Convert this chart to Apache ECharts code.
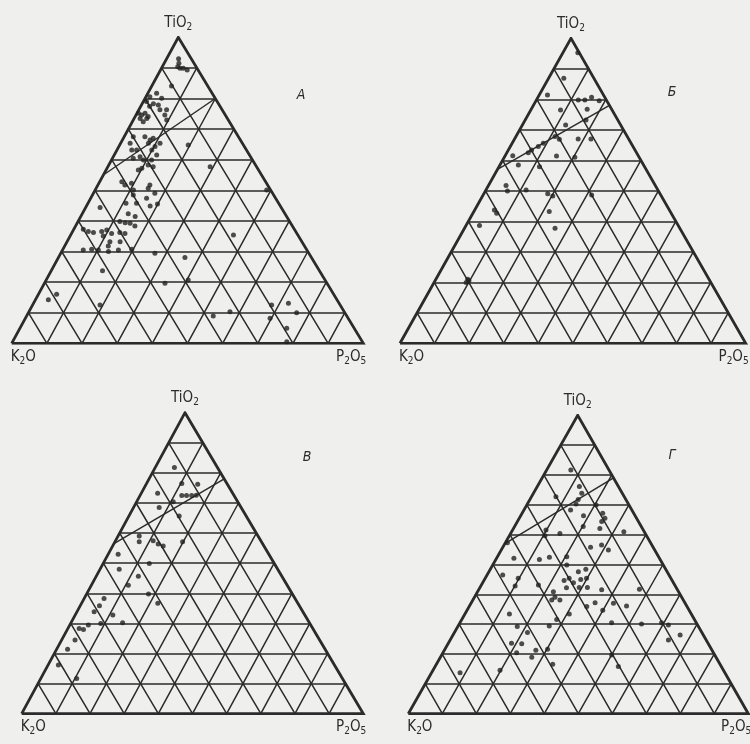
<!DOCTYPE html>
<html>
<head>
<meta charset="utf-8">
<script src="https://cdn.jsdelivr.net/npm/echarts@6/dist/echarts.min.js"></script>
<style>
  html, body { margin: 0; padding: 0; background: #efefed; }
  #chart { width: 750px; height: 744px; }
</style>
</head>
<body>
<div id="chart"></div>
<script>
// Ternary grid step values (percent)
const TICKS = [10, 20, 30, 40, 50, 60, 70, 80, 90];

// Panel letters
const PANEL_LETTERS = ['А', 'Б', 'В', 'Г'];

// Samples as [TiO2 %, P2O5 %]; K2O is the remainder to 100
const pointsA = [
  [93, 3.4], [91.5, 4.2], [90.4, 4.4], [89.9, 5.3], [89.9, 6.2], [89.3, 7.6], [84.1, 5.6],
  [81.7, 2.5], [80.1, 4.7], [80.6, 1.1], [79, 0.9], [77.9, 4.8], [76.3, 6], [76.3, 7.9],
  [74.6, 8.2], [73, 9.5], [75.2, 0.4], [74.6, 1.6], [75.2, 2.3], [73.5, 1.7], [73.5, 3.6],
  [72.4, 3.1], [74.1, 3.7], [77.5, 2.5], [78.3, 3.2],
  [67.5, 5.9], [66.4, 7.9], [67, 8.5], [65.4, 7.9], [64.3, 10.3], [63.2, 9.9], [61.5, 12.1],
  [65.4, 11.2], [67.5, 2.6], [65.4, 2.7], [63.2, 4.2], [63.2, 5.6], [61, 7.6], [59.9, 9.1],
  [60.5, 5.9], [58.3, 11.2], [57.7, 12.9], [59.9, 11.4], [57.2, 9.9], [56.6, 9.2],
  [64.8, 19.5], [57.7, 29.1], [50.1, 48.8],
  [52.8, 6.3], [51.7, 7.7], [52.3, 9.3], [51.7, 14.8], [50.7, 14.8], [50.1, 10.9], [47.4, 15.9],
  [49, 17.5], [48.5, 11.6], [45.8, 13.8], [45.8, 10.8], [44.4, 4.1], [44.9, 18.1], [45.5, 19.9],
  [42.3, 13.1], [41.4, 15.5],
  [39.8, 11.9], [39.4, 13.6], [39.2, 15.1], [38.3, 16.9], [37.3, 2.7], [36.5, 4.5], [36.2, 6.1],
  [36.5, 8.3], [37, 9.5], [35.1, 9.4], [35.9, 11.4], [36.2, 13.6], [35.9, 15.2], [33.2, 12.2],
  [33.2, 15.1], [30.5, 5.9], [30.7, 8.2], [30.5, 10.2], [31.8, 12.4], [30, 13.3], [30.5, 15.9],
  [30.7, 19.6], [29.4, 26.8], [28, 36], [35.4, 46.3],
  [23.7, 14.6], [19.6, 34.3], [20.7, 40.4], [16, 5.2], [14.2, 3.7], [12.5, 19.2], [10.3, 57.2],
  [8.9, 53.1], [12.5, 68], [8.2, 69.6], [13.1, 72.5], [10, 76.3], [4.9, 75.9], [0.5, 78]
];
const pointsB = [
  [95.3, 4.3], [86.9, 4.4], [81.4, 2.4], [79.8, 12.1], [79.8, 14], [80.7, 15.5], [79.5, 18.3],
  [76.5, 8.6], [76.7, 16.2], [71.6, 12.5], [73.2, 17.6], [67.8, 11.3], [66.9, 13], [67, 18.4],
  [67, 22.1], [65.6, 9], [64.5, 8.1], [63.4, 6.7], [62.5, 6.2], [61.5, 2.2], [58.5, 5.3],
  [61.4, 14.9], [61, 20.4], [57.9, 11.7], [51.7, 5.1], [49.9, 6.4], [50.3, 11.6], [49, 18.5],
  [48.3, 20.3], [48.6, 31.4], [43.7, 5.7], [42.6, 6.9], [43.2, 21.8], [38.6, 3.9], [37.7, 26.2],
  [21, 9.2], [19.9, 9.3], [20.5, 9.8]
];
const pointsV = [
  [81.8, 5.6], [76.5, 10.3], [76.2, 15.1], [73.2, 4.8], [72.5, 12.2], [72.5, 13.6], [72.5, 15.1],
  [72.6, 16.4], [70.4, 10.7], [68.5, 7.5], [65.7, 14.7], [59, 6.2], [57.1, 7.1], [57.5, 11],
  [56.4, 13], [55.7, 14.8], [57.1, 19.8], [53, 2.9], [49.9, 13.5], [48, 5.6], [45.7, 12.3],
  [42.7, 10.8], [39.8, 18.1], [36.7, 22.3], [38.3, 5.8], [35.9, 5.6], [33.9, 5], [32.8, 11],
  [30, 8.8], [30.2, 15.1], [28.3, 3.3], [28, 4.7], [29.5, 5.4], [24.5, 3.9], [21.4, 3.2],
  [16.2, 3], [11.7, 10.5]
];
const pointsG = [
  [81.7, 7.1], [72.7, 7.2], [76.1, 12.4], [73.9, 14.2], [71.8, 14.2], [70.3, 14.3], [68.3, 13.7],
  [69.9, 20.4], [66.3, 18.5], [67.2, 23.7], [65.5, 25.2], [64.4, 24.8], [61.6, 9.8], [59.6, 10.5],
  [60.4, 14.5], [62.7, 20.2], [62.1, 25.4], [61, 33], [57.3, 0.6], [55.8, 25.8], [56.5, 28.7],
  [54.9, 31.5], [52.1, 5.1], [51.7, 12.8], [52.4, 15.4], [52.6, 20.4], [49.8, 21.8], [46.5, 4.6],
  [45.4, 9.7], [42.8, 10.1], [43.1, 16.8], [40.9, 22.3], [39, 23.7], [38.1, 23.2], [38.1, 25.6],
  [44.6, 23.6], [45.4, 24.7], [43.9, 26.7], [47.6, 26.3], [48.4, 28.1], [45, 28.3], [45.4, 29.8],
  [42.3, 29.2], [42.3, 31.6], [42.2, 25.5], [41.5, 36.2], [37, 41.9], [36.1, 46.2], [41.7, 47.2],
  [35.9, 34.6], [37.2, 36.4], [34.7, 39.9], [33.4, 13.1], [29.2, 17.5], [27.2, 21.5], [29.4, 26.8],
  [31.6, 27.9], [33.4, 30.7], [30.5, 44.6], [30.1, 53.6], [30.5, 59.3], [29.7, 61.7], [26.4, 66.8],
  [24.7, 64.2], [23.6, 18.6], [23.4, 21.7], [20.4, 21.7], [21.3, 26.9], [21.6, 30.2], [18.9, 26.9],
  [16.6, 34.2], [19.7, 50], [15.8, 53.9], [13.7, 8.4], [14.6, 19.7]
];

// Field boundary in each diagram, ends as [TiO2 %, P2O5 %]
const boundaryA = [[55, 0], [80, 20]];
const boundaryB = [[57, 0], [78, 22]];
const boundaryV = [[56.5, 0], [78, 22]];
const boundaryG = [[57, 0], [79, 21]];

const POINTS = [pointsA, pointsB, pointsV, pointsG];
const BOUNDARIES = [boundaryA, boundaryB, boundaryV, boundaryG];

// Triangle frames on the page: base corners, base line, apex
const FRAMES = [
  { bl: 11.7,  br: 363.3, base: 343.3, apexX: 178.3, apexY: 37.3,  letter: [301, 95] },
  { bl: 400,   br: 745.7, base: 343.3, apexX: 571,   apexY: 38.3,  letter: [672, 92] },
  { bl: 21.7,  br: 363.3, base: 713.7, apexX: 185,   apexY: 412.7, letter: [307, 457] },
  { bl: 408.3, br: 748.3, base: 713.7, apexX: 577.7, apexY: 415.3, letter: [672, 455] }
];

const INK = '#2b2b2b';
const FONT = "'Liberation Sans Narrow', 'DejaVu Sans Condensed', 'Liberation Sans', sans-serif";

// ternary [Ti, P] -> axis coordinates (x along the base, y = TiO2 height)
function toXY(frame, ti, p) {
  const skew = (frame.apexX - frame.bl) / (frame.br - frame.bl);
  return [p + ti * skew, ti];
}

const grids = [], xAxes = [], yAxes = [], series = [], graphics = [];

FRAMES.forEach((f, i) => {
  grids.push({ left: f.bl, top: f.apexY, width: f.br - f.bl, height: f.base - f.apexY });
  xAxes.push({ gridIndex: i, type: 'value', min: 0, max: 100, show: false });
  yAxes.push({ gridIndex: i, type: 'value', min: 0, max: 100, show: false });

  const seg = (a, b) => ({ coords: [toXY(f, a[0], a[1]), toXY(f, b[0], b[1])] });
  const gridSegs = [];
  TICKS.forEach(k => {
    gridSegs.push(seg([k, 0], [k, 100 - k]));        // constant TiO2
    gridSegs.push(seg([0, k], [100 - k, k]));        // constant P2O5
    gridSegs.push(seg([0, 100 - k], [100 - k, 0]));  // constant K2O
  });
  series.push({
    type: 'lines', coordinateSystem: 'cartesian2d', xAxisIndex: i, yAxisIndex: i,
    silent: true, animation: false, z: 1,
    lineStyle: { color: INK, width: 1.5, opacity: 1, cap: 'round' },
    data: gridSegs
  });
  series.push({
    type: 'lines', coordinateSystem: 'cartesian2d', xAxisIndex: i, yAxisIndex: i,
    silent: true, animation: false, z: 2,
    lineStyle: { color: INK, width: 1.5, opacity: 1 },
    data: [seg(BOUNDARIES[i][0], BOUNDARIES[i][1])]
  });
  series.push({
    type: 'line', xAxisIndex: i, yAxisIndex: i, silent: true, animation: false, z: 3,
    symbol: 'none', lineStyle: { color: INK, width: 2.8, join: 'miter' },
    data: [toXY(f, 0, 0), toXY(f, 0, 100), toXY(f, 100, 0), toXY(f, 0, 0)]
  });
  series.push({
    type: 'scatter', xAxisIndex: i, yAxisIndex: i, silent: true, animation: false, z: 4,
    symbolSize: 5, itemStyle: { color: '#222' },
    data: POINTS[i].map(d => toXY(f, d[0], d[1]))
  });

  const rich = {
    m: { fontSize: 15, fontFamily: FONT, fill: INK, color: INK },
    s: { fontSize: 10, fontFamily: FONT, fill: INK, color: INK, padding: [9, 0, 0, 0] }
  };
  graphics.push({
    type: 'text', x: f.apexX, y: f.apexY - 5,
    style: { text: '{m|TiO}{s|2}', rich, align: 'center', verticalAlign: 'bottom', fill: INK }
  });
  graphics.push({
    type: 'text', x: f.bl - 1, y: f.base + 4,
    style: { text: '{m|K}{s|2}{m|O}', rich, align: 'left', verticalAlign: 'top', fill: INK }
  });
  graphics.push({
    type: 'text', x: f.br + 3, y: f.base + 4,
    style: { text: '{m|P}{s|2}{m|O}{s|5}', rich, align: 'right', verticalAlign: 'top', fill: INK }
  });
  graphics.push({
    type: 'text', x: f.letter[0], y: f.letter[1],
    style: { text: PANEL_LETTERS[i], fontSize: 14, fontStyle: 'italic', fontFamily: FONT,
             fill: INK, align: 'center', verticalAlign: 'middle' }
  });
});

const chart = echarts.init(document.getElementById('chart'), null, { renderer: 'canvas' });
chart.setOption({
  backgroundColor: '#efefed',
  animation: false,
  grid: grids,
  xAxis: xAxes,
  yAxis: yAxes,
  series,
  graphic: graphics
});
</script>
</body>
</html>
